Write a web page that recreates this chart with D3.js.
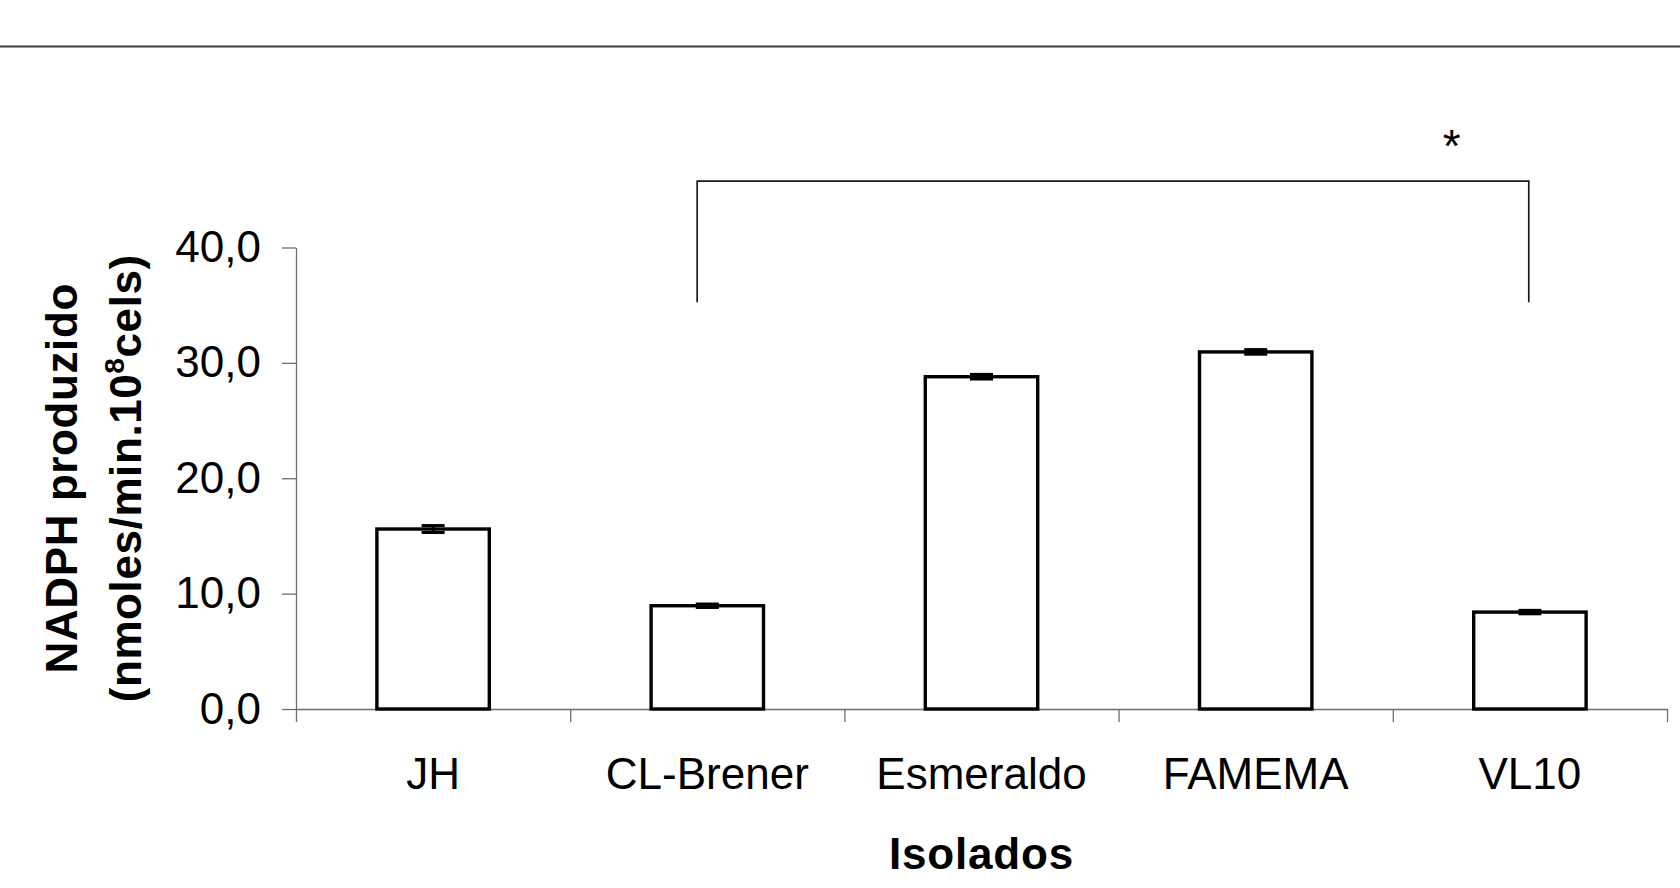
<!DOCTYPE html>
<html>
<head>
<meta charset="utf-8">
<script src="https://cdn.jsdelivr.net/npm/d3@7"></script>
<style>
  html, body { margin: 0; padding: 0; background: #fff; }
  svg { display: block; font-family: "Liberation Sans", Arial, sans-serif; }
</style>
</head>
<body>
<svg id="chart" width="1680" height="888"></svg>
<script>
// data
var categories = ["JH", "CL-Brener", "Esmeraldo", "FAMEMA", "VL10"];
var means = [15.6, 8.95, 28.8, 30.95, 8.4];
var errors = [0.3, 0.15, 0.2, 0.2, 0.15];
var yTicks = [0, 10, 20, 30, 40];
var pair = ["CL-Brener", "VL10"];
var mark = "*";

var svg = d3.select("#chart");
var W = +svg.attr("width");

var margin = { top: 247.5, right: 13, bottom: 179, left: 296 },
  width = W - margin.left - margin.right,
  height = +svg.attr("height") - margin.top - margin.bottom;

var data = categories.map(function (c, i) { return { cat: c, v: means[i], e: errors[i] }; });

// rule at the top of the page
svg.append("line")
  .attr("x1", 0).attr("x2", W)
  .attr("y1", 46.5).attr("y2", 46.5)
  .attr("stroke", "#3c3c3c")
  .attr("stroke-width", 1.8);

var x = d3.scaleBand().domain(categories).range([0, width]).paddingInner(0.59).paddingOuter(0.295),
  xEdge = d3.scaleLinear().domain([0, categories.length]).range([0, width]),
  y = d3.scaleLinear().domain([0, 40]).range([height, 0]);

var g = svg.append("g")
  .attr("transform", "translate(" + margin.left + "," + margin.top + ")");

// y axis
var yAxis = g.append("g")
  .attr("class", "axis axis--y")
  .call(d3.axisLeft(y).tickValues(yTicks).tickSize(14).tickSizeOuter(0).tickPadding(21)
    .tickFormat(function (d) { return d3.format(".1f")(d).replace(".", ","); }));

// x axis: labels plus boundary ticks
var xAxis = g.append("g")
  .attr("class", "axis axis--x")
  .attr("transform", "translate(0," + height + ")")
  .call(d3.axisBottom(x).tickSize(0).tickPadding(49));
xAxis.select(".domain").remove();

g.append("g")
  .attr("class", "axis axis--edges")
  .attr("transform", "translate(0," + height + ")")
  .call(d3.axisBottom(xEdge).ticks(categories.length).tickSize(13).tickSizeOuter(0).tickFormat(""));

g.selectAll(".axis path, .axis line")
  .attr("stroke", "#6e6e6e")
  .attr("stroke-width", 1.3);
g.selectAll(".axis text")
  .attr("fill", "#000")
  .style("font-size", "44px")
  .style("font-family", "'Liberation Sans', Arial, sans-serif");

// bars
g.selectAll(".bar")
  .data(data)
  .enter().append("rect")
  .attr("class", "bar")
  .attr("x", function (d) { return x(d.cat); })
  .attr("y", function (d) { return y(d.v); })
  .attr("width", x.bandwidth())
  .attr("height", function (d) { return height - y(d.v); })
  .attr("fill", "#fff")
  .attr("stroke", "#000")
  .attr("stroke-width", 3.4);

// error bars
var eb = g.selectAll(".err")
  .data(data)
  .enter().append("g")
  .attr("class", "err")
  .attr("stroke", "#000")
  .attr("stroke-width", 3);
var capW = 11.5;
eb.append("line")
  .attr("x1", function (d) { return x(d.cat) + x.bandwidth() / 2; })
  .attr("x2", function (d) { return x(d.cat) + x.bandwidth() / 2; })
  .attr("y1", function (d) { return y(d.v - d.e); })
  .attr("y2", function (d) { return y(d.v + d.e); });
eb.selectAll(".cap")
  .data(function (d) { return [{ cat: d.cat, v: d.v - d.e }, { cat: d.cat, v: d.v + d.e }]; })
  .enter().append("line")
  .attr("class", "cap")
  .attr("x1", function (d) { return x(d.cat) + x.bandwidth() / 2 - capW; })
  .attr("x2", function (d) { return x(d.cat) + x.bandwidth() / 2 + capW; })
  .attr("y1", function (d) { return y(d.v); })
  .attr("y2", function (d) { return y(d.v); });

// significance bracket
var bx1 = x(pair[0]) + x.bandwidth() * 0.41,
  bx2 = x(pair[1]) + x.bandwidth() * 0.49,
  bTop = y(45.75),
  bBot = y(35.25);
g.append("path")
  .attr("d", "M" + bx1 + "," + bBot + "V" + bTop + "H" + bx2 + "V" + bBot)
  .attr("fill", "none")
  .attr("stroke", "#1a1a1a")
  .attr("stroke-width", 1.7);
g.append("text")
  .attr("x", x(pair[1]) - 22)
  .attr("y", y(47.45))
  .attr("text-anchor", "middle")
  .style("font-size", "46px")
  .text(mark);

// axis titles
g.append("text")
  .attr("x", width / 2)
  .attr("y", height + 160)
  .attr("text-anchor", "middle")
  .style("font-size", "44px")
  .style("font-weight", "bold")
  .style("letter-spacing", "0.8px")
  .text("Isolados");

var yt = g.append("g")
  .attr("transform", "translate(" + (-margin.left) + "," + (height / 2) + ") rotate(-90)")
  .style("font-size", "44px")
  .style("font-weight", "bold")
  .style("letter-spacing", "0.6px")
  .attr("text-anchor", "middle");
yt.append("text")
  .attr("x", 0)
  .attr("y", 77)
  .text("NADPH produzido");
var t2 = yt.append("text")
  .attr("x", 0)
  .attr("y", 141);
t2.append("tspan").text("(nmoles/min.10");
t2.append("tspan").attr("dy", -17).style("font-size", "28px").text("8");
t2.append("tspan").attr("dy", 17).text("cels)");
</script>
</body>
</html>
